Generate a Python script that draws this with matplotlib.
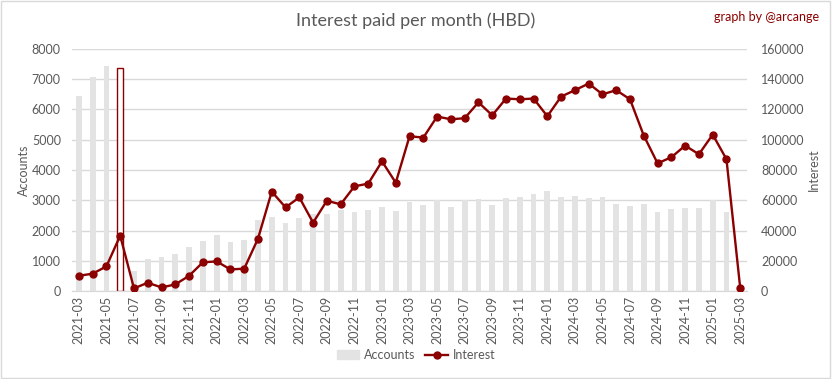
import numpy as np
import matplotlib
matplotlib.use("Agg")
import matplotlib.pyplot as plt
from matplotlib.patches import Rectangle

plt.rcParams['font.family'] = ['Lato', 'DejaVu Sans']

months = [
    '2021-03', '2021-04', '2021-05', '2021-06', '2021-07', '2021-08', '2021-09',
    '2021-10', '2021-11', '2021-12', '2022-01', '2022-02', '2022-03', '2022-04',
    '2022-05', '2022-06', '2022-07', '2022-08', '2022-09', '2022-10', '2022-11',
    '2022-12', '2023-01', '2023-02', '2023-03', '2023-04', '2023-05', '2023-06',
    '2023-07', '2023-08', '2023-09', '2023-10', '2023-11', '2023-12', '2024-01',
    '2024-02', '2024-03', '2024-04', '2024-05', '2024-06', '2024-07', '2024-08',
    '2024-09', '2024-10', '2024-11', '2024-12', '2025-01', '2025-02', '2025-03',
]
accounts = [
    6450, 7070, 7450, 7360, 660, 1060, 1120, 1220, 1450, 1650, 1850, 1620, 1690,
    2350, 2450, 2250, 2410, 2550, 2550, 2680, 2610, 2680, 2780, 2640, 2940,
    2850, 3000, 2790, 3000, 3040, 2850, 3070, 3110, 3210, 3310, 3110, 3140,
    3070, 3110, 2890, 2810, 2890, 2610, 2710, 2740, 2740, 3010, 2610, 0,
]
interest = [
    10100, 11500, 16300, 36600, 1800, 5500, 2400, 4400, 10100, 19000, 19600,
    14300, 14800, 34600, 65700, 55300, 61900, 45200, 59700, 57300, 69200,
    71000, 85700, 71600, 102300, 101400, 115300, 113500, 114200, 124700,
    116100, 127200, 126700, 127200, 115500, 128500, 132700, 137100, 130000,
    132700, 126700, 102700, 84400, 88400, 96100, 90400, 103400, 87100, 1800,
]
highlight = '2021-06'

grey = '#595959'
red = '#8B0000'

fig = plt.figure(figsize=(8.32, 3.79), dpi=100)
ax = fig.add_axes([0.0865, 0.232, 0.8115, 0.639])
ax2 = ax.twinx()

x = np.arange(len(months))
colors = ['white' if m == highlight else '#e3e3e3' for m in months]
edges = [red if m == highlight else 'none' for m in months]
ax.bar(x, accounts, width=0.42, color=colors, edgecolor=edges, linewidth=1,
       label='Accounts', zorder=2)
ax2.plot(x, interest, color=red, lw=1.7, marker='o', ms=5, label='Interest', zorder=3)

ax.set_xlim(-0.5, len(months) - 0.5)
ax.set_ylim(0, 8000)
ax2.set_ylim(0, 160000)
ax.set_yticks(np.arange(0, 8001, 1000))
ax2.set_yticks(np.arange(0, 160001, 20000))
ax.set_xticks(x[::2])
ax.set_xticklabels(months[::2], rotation=90)

ax.grid(axis='y', color='#d9d9d9', lw=1, zorder=0)
ax.set_axisbelow(True)
for a in (ax, ax2):
    for s in ['top', 'left', 'right']:
        a.spines[s].set_visible(False)
    a.spines['bottom'].set_color('#d9d9d9')
    a.tick_params(length=0, colors=grey, labelsize=9)
ax.tick_params(axis='y', pad=8)
ax2.tick_params(axis='y', pad=10)

ax.set_ylabel('Accounts', color=grey, fontsize=9, labelpad=1)
ax2.set_ylabel('Interest', color=grey, fontsize=9, labelpad=2)

fig.text(0.5, 0.945, 'Interest paid per month (HBD)', ha='center', va='center',
         fontsize=13, color=grey)
fig.text(0.985, 0.955, 'graph by @arcange', ha='right', va='center',
         fontsize=9, color=red)

h2, l2 = ax2.get_legend_handles_labels()
h1 = [Rectangle((0, 0), 1, 1, color='#e3e3e3')]
fig.legend(h1 + h2, ['Accounts'] + l2, loc='center', bbox_to_anchor=(0.5, 0.063),
           ncol=2, frameon=False, fontsize=9, labelcolor=grey, handlelength=1.8,
           handletextpad=0.4, columnspacing=0.8)

fig.patches.append(Rectangle((0.001, 0.002), 0.997, 0.995, transform=fig.transFigure,
                             fill=False, edgecolor='#d9d9d9', lw=1))

fig.savefig('out.png', dpi=100)
